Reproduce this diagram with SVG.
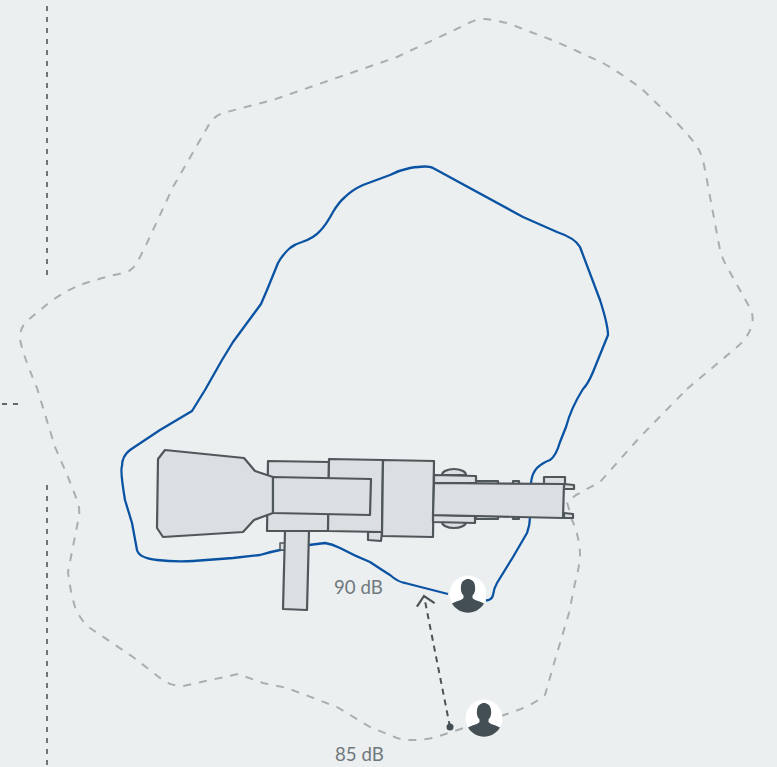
<svg xmlns="http://www.w3.org/2000/svg" width="777" height="767" viewBox="0 0 777 767">
<style>
.p{fill:#dbdfe2;stroke:#50575b;stroke-width:2.200;stroke-linejoin:round}
.c{fill:none;stroke:#a9aeb1;stroke-width:2;stroke-dasharray:8 8;stroke-linejoin:round}
.b{fill:none;stroke:#0a53a3;stroke-width:2.300;stroke-linejoin:round}
.g{fill:none;stroke:#62696d;stroke-width:1.800;stroke-dasharray:5 6}
.t{font-family:"Lato","Open Sans",sans-serif;font-size:18.670px;fill:#70787c}
</style>
<defs>
<marker id="ah" markerUnits="userSpaceOnUse" markerWidth="20" markerHeight="22" refX="14" refY="11" orient="auto"><path d="M5 2L14 11L5 20" fill="none" stroke="#4a5357" stroke-width="2.200"/></marker>
<g id="person"><circle r="18.500" fill="#fff"/><path fill="#434f54" d="M-16 9.500C-12 7 -6 6.500 -4.500 4L-4.500 1.500C-7 -1 -7.500 -4 -7 -8C-6.500 -13 -3 -15 0 -15C3 -15 6.500 -13 7 -8C7.500 -4 7 -1 4.500 1.500L4.500 4C6 6.500 12 7 16 9.500A18.500 18.500 0 0 1 -16 9.500Z"/></g>
</defs>
<rect width="777" height="767" fill="#ebeff0"/>
<g id="connectors">
<path class="g" d="M47 6V278M47 485V767M2 404H18"/>
<path class="c" d="M687 389L737 347Q748 338 752 325Q754 316 750 308L727 267Q722 258 720 250L705 170Q703 158 699 150Q695 142 677 123L643 90Q625 76 603 63L557 42L510 24Q497 20 485 19Q475 19 465 25L397 57L273 100L223 113Q213 116 207 128L173 187L147 243L137 263Q132 270 127 272Q100 278 80 285Q65 291 50 302L28 320Q20 327 20 338Q21 350 37 388L55 447L68 477L77 500Q80 508 79 516L68 572Q70 590 75 607Q80 620 90 628L133 657L160 678Q170 686 183 686L238 674L263 683L287 688L337 707L370 727L397 738Q410 742 433 738L513 712Q535 704 545 695L555 660L569 613L575 583Q580 565 580 553Q579 535 572 520L567 502L576 495L600 482L640 437Z"/>
<path class="b" d="M486 600.500Q492 600 493 595Q494 588 497 583L513 557L527 533Q530 525 530 517L531 483Q532 473 537 468Q542 463 550 460Q556 456 560 442L566 427Q571 408 583 389Q588 384 593 372L608 335Q608 325 600 300L580 247Q575 238 557 232L523 217L433 168Q428 165 410 168Q400 170 390 175L363 185Q352 190 345 197Q339 202 333 212Q326 225 320 231Q314 238 302 242Q295 244 290 248Q283 254 278 263L267 290L261 304L233 342L222 360L205 390L192 411L160 430L130 450Q122 456 122 466Q120 470 125 500L132 523L137 550Q139 558 157 560Q175 562 193 561L233 558L260 555Q270 552 280 550L309 545L325 543Q332 544 340 548Q355 556 370 562Q382 570 390 575Q398 582 405 583L448 594"/>
<path d="M450 727L424 596" fill="none" stroke="#4a5357" stroke-width="2" stroke-dasharray="6 5" marker-end="url(#ah)"/>
<circle cx="450" cy="727" r="3.500" fill="#434f54"/>
</g>
<g id="machine">
<path class="p" d="M442 475A12 6 0 0 1 466 475ZM442 522A12 6 0 0 0 466 522Z"/>
<path class="p" d="M476 481L498 481L498 484L476 484ZM476 516L498 516L498 519L476 519ZM513 481L519 481L519 484L513 484ZM513 516L519 516L519 519L513 519Z"/>
<path class="p" d="M544 477L565 477L565 484L544 484Z"/>
<path class="p" d="M564 484L574 485L574 489L564 489ZM564 513L573 514L573 518L564 518Z"/>
<path class="p" d="M368 532L382 532L381 541L368 540Z"/>
<path class="p" d="M280 543L285 543L285 550L280 550Z" style="stroke-width:1.500"/>
<path class="p" d="M268 461L329 462L328 531L267 531Z"/>
<path class="p" d="M329 459L383 460L382 532L328 531Z"/>
<path class="p" d="M383 460L434 461L433 537L382 536Z"/>
<path class="p" d="M434 475L476 476L476 483L434 483ZM433 515L475 516L475 523L433 522Z"/>
<path class="p" d="M434 483L564 484L563 518L433 515Z"/>
<path class="p" d="M165 450L244 458L255 471L273 477L273 513L254 520L243 532L163 537L157 528L158 459Z"/>
<path class="p" d="M273 477L371 479L370 515L273 513Z"/>
<path class="p" d="M285 531L309 531L307 610L283 609Z"/>
</g>
<g id="person-1"><use href="#person" x="468" y="594"/></g>
<g id="person-2"><use href="#person" x="484" y="718"/></g>
<g id="label-90"><text class="t" x="334" y="594">90 dB</text></g>
<g id="label-85"><text class="t" x="335" y="761">85 dB</text></g>
</svg>
